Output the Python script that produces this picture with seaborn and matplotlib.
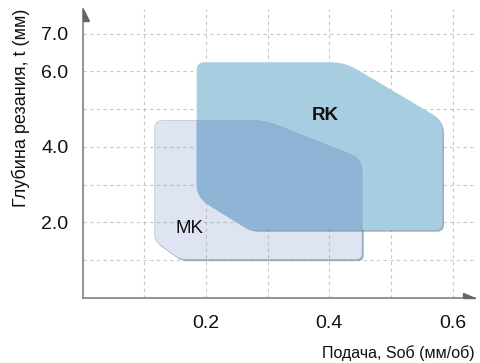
import numpy as np
import matplotlib
matplotlib.use("Agg")
import matplotlib.pyplot as plt
import matplotlib.patheffects as pe
from matplotlib.patches import Polygon
import seaborn as sns

# ---- data ----
regions = ["MK", "RK"]
mk_feed = [0.117, 0.295, 0.453, 0.453, 0.158, 0.117]
mk_depth = [4.70, 4.70, 3.68, 1.02, 1.02, 1.51]
rk_feed = [0.185, 0.425, 0.583, 0.583, 0.271, 0.185]
rk_depth = [6.24, 6.24, 4.71, 1.80, 1.80, 2.67]
mk_label_pos = (0.174, 1.85)
rk_label_pos = (0.393, 4.84)
x_ticks = [0.1, 0.2, 0.3, 0.4, 0.5, 0.6]
x_tick_labels = ["", "0.2", "", "0.4", "", "0.6"]
y_ticks = [1, 2, 3, 4, 5, 6, 7]
y_tick_labels = ["", "2.0", "", "4.0", "", "6.0", "7.0"]
x_title = "Подача, Sоб (мм/об)"
y_title = "Глубина резания, t (мм)"

# ---- style ----
sns.set_theme(style="white")
plt.rcParams["font.family"] = ["Liberation Sans", "DejaVu Sans"]

fig = plt.figure(figsize=(4.81, 3.63), dpi=100)
ax = fig.add_axes([82.5 / 481, 1 - 298 / 363, (475 - 82.5) / 481, (298 - 9) / 363])
ax.set_xlim(0, 0.636)
ax.set_ylim(0, 7.65)

mk_radii = [8, 12, 12, 6, 6, 6]
rk_radii = [8, 14, 12, 7, 8, 12]


def rounded(xs, ys, radii):
    pts = ax.transData.transform(np.column_stack([xs, ys]))
    n = len(pts)
    out = []
    for i in range(n):
        p = pts[i]
        a = pts[i - 1]
        b = pts[(i + 1) % n]
        r = radii[i]
        ua = (a - p) / np.linalg.norm(a - p)
        ub = (b - p) / np.linalg.norm(b - p)
        p0 = p + ua * r
        p2 = p + ub * r
        for t in np.linspace(0, 1, 10):
            out.append((1 - t) ** 2 * p0 + 2 * (1 - t) * t * p + t ** 2 * p2)
    out = np.array(out)
    return ax.transData.inverted().transform(out)


mk_poly = rounded(mk_feed, mk_depth, mk_radii)
rk_poly = rounded(rk_feed, rk_depth, rk_radii)

shadow = [pe.SimplePatchShadow(offset=(1.2, -1.2), shadow_rgbFace="#4f6f85", alpha=0.55), pe.Normal()]

mk_patch = Polygon(mk_poly, closed=True, facecolor="#dfe4f3", edgecolor="none", zorder=2)
mk_patch.set_path_effects(shadow)
ax.add_patch(mk_patch)
rk_patch = Polygon(rk_poly, closed=True, facecolor="#a7cde0", edgecolor="none", zorder=3)
rk_patch.set_path_effects(shadow)
ax.add_patch(rk_patch)
ov_patch = Polygon(rk_poly, closed=True, facecolor="#8fb4d5", edgecolor="none", zorder=4)
ax.add_patch(ov_patch)
ov_patch.set_clip_path(mk_patch)
mk_edge = Polygon(mk_poly, closed=True, facecolor="none", edgecolor="#6f8fa8", lw=0.6, alpha=0.35, zorder=4)
ax.add_patch(mk_edge)

ax.text(*rk_label_pos, regions[1], fontsize=13.5, fontweight="bold", ha="center", va="center", color="#111111", zorder=6)
ax.text(*mk_label_pos, regions[0], fontsize=13.5, ha="center", va="center", color="#111111", zorder=6)

# grid
ax.set_xticks(x_ticks)
ax.set_xticklabels(x_tick_labels)
ax.set_yticks(y_ticks)
ax.set_yticklabels(y_tick_labels)
ax.tick_params(axis="both", length=0, labelsize=14, colors="#111111")
ax.tick_params(axis="x", pad=12)
ax.tick_params(axis="y", pad=10)
ax.grid(True, linestyle=(0, (3, 3)), color="#9a9a9a", alpha=0.55, linewidth=0.8, zorder=5)
ax.set_axisbelow(False)

sns.despine(ax=ax)
for s in ["left", "bottom"]:
    ax.spines[s].set_color("#8a8a8a")
    ax.spines[s].set_linewidth(1.3)
    ax.spines[s].set_zorder(7)

# arrow heads (half triangles)
W = 475 - 82.5
H = 298 - 9
ax.fill([0, 0, 6 / W], [1, 1 - 12 / H, 1 - 12 / H], transform=ax.transAxes, color="#666666", clip_on=False, zorder=8)
ax.fill([1, 1 - 12 / W, 1 - 12 / W], [0, 0, 5 / H], transform=ax.transAxes, color="#666666", clip_on=False, zorder=8)

ax.set_xlabel(x_title, fontsize=11.5, loc="right", color="#111111", labelpad=10)
ax.set_ylabel(y_title, fontsize=13, loc="top", color="#111111", labelpad=8)

fig.savefig("out.png", dpi=100)
